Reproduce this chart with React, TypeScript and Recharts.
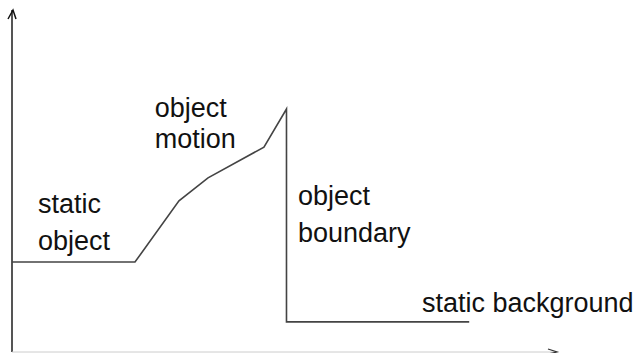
import React from 'react';
import { LineChart, Line, XAxis, YAxis, ReferenceDot, ReferenceLine } from 'recharts';

// profile along the scan line (arbitrary units, 0..100 on both axes)
const profileX = [0, 22.65, 30.75, 36.1, 46.4, 50.55, 50.55, 84.2];
const profileY = [26.3, 26.3, 44.2, 50.9, 59.9, 71.05, 8.8, 8.8];

// region labels, anchored at the baseline of their first line
const labelText = [
    ['static', 'object'],
    ['object', 'motion'],
    ['object', 'boundary'],
    ['static background'],
];
const labelX = [4.79, 26.3, 52.67, 75.5];
const labelY = [40.6, 68.7, 43.0, 11.7];
const labelGap = [37, 31, 37, 0];

const data = profileX.map((x, i) => ({ x, y: profileY[i] }));

const FONT = '"Liberation Sans", Arial, Helvetica, sans-serif';

const TextBlock = (lines: string[], gap: number) => (props: any) => (
    <text x={props.cx} y={props.cy} fontFamily={FONT} fontSize={27} fill="#111">
        {lines.map((l, i) => (
            <tspan key={i} x={props.cx} dy={i === 0 ? 0 : gap}>{l}</tspan>
        ))}
    </text>
);

const UpArrow = (props: any) => (
    <path
        d={`M${props.cx - 4},${props.cy + 9} L${props.cx + 1},${props.cy} L${props.cx + 4},${props.cy + 9}`}
        fill="none"
        stroke="#111"
        strokeWidth={1.5}
    />
);

const RightArrow = (props: any) => (
    <path
        d={`M${props.cx - 7},${props.cy - 3} L${props.cx + 2},${props.cy} L${props.cx - 7},${props.cy + 2}`}
        fill="none"
        stroke="#333"
        strokeWidth={1.2}
    />
);

export default function App() {
    return (
        <div style={{ position: 'absolute', left: 0, top: 0, background: '#fff' }}>
            <LineChart
                width={637}
                height={353}
                data={data}
                margin={{ top: 10, right: 82, bottom: 1, left: 12 }}
            >
                <XAxis dataKey="x" type="number" domain={[0, 100]} hide />
                <YAxis type="number" domain={[0, 100]} hide />
                {/* axes drawn as reference lines so they sit exactly on the plot edges */}
                <ReferenceLine x={0} stroke="#555555" strokeWidth={2} ifOverflow="visible" />
                <ReferenceLine y={0} stroke="#cccccc" strokeWidth={1} ifOverflow="visible" />
                <Line
                    type="linear"
                    dataKey="y"
                    stroke="#444"
                    strokeWidth={1.6}
                    dot={false}
                    isAnimationActive={false}
                />
                <ReferenceDot x={0} y={100} ifOverflow="visible" shape={UpArrow} />
                <ReferenceDot x={100} y={0} ifOverflow="visible" shape={RightArrow} />
                {labelText.map((lines, i) => (
                    <ReferenceDot
                        key={i}
                        x={labelX[i]}
                        y={labelY[i]}
                        ifOverflow="visible"
                        shape={TextBlock(lines, labelGap[i])}
                    />
                ))}
            </LineChart>
        </div>
    );
}
